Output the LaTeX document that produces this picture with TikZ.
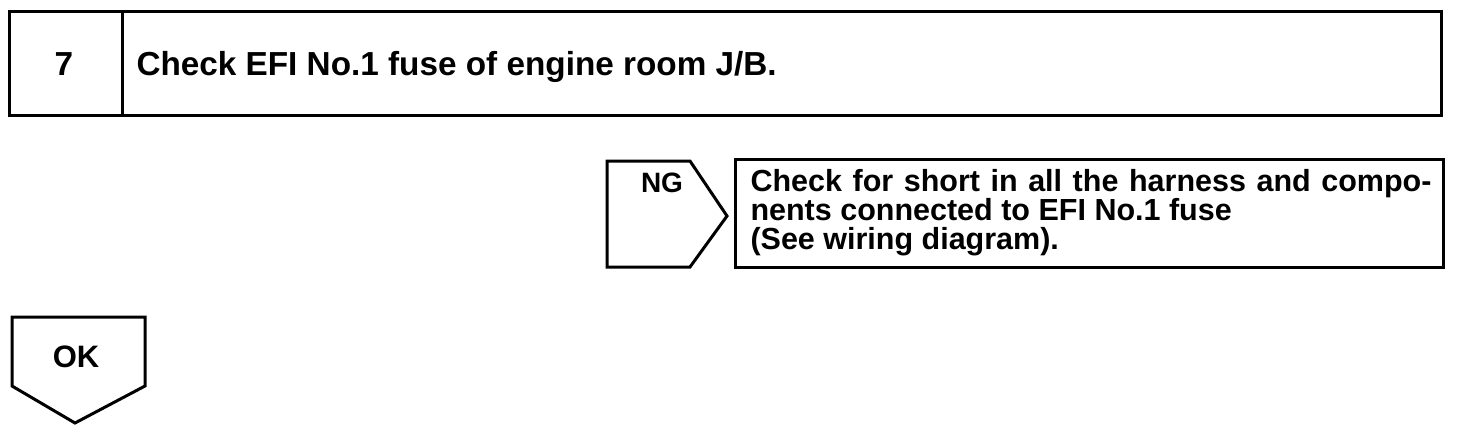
\documentclass[tikz,border=0pt]{standalone}
\usepackage{fontspec}
\setmainfont{Liberation Sans}
\begin{document}
\begin{tikzpicture}[x=1pt,y=-1pt,
  line width=3pt, line join=miter,
  lbl/.style={font=\bfseries\fontsize{33.3}{36}\selectfont, inner sep=0pt, anchor=base west},
  rlbl/.style={font=\bfseries\fontsize{30.5}{29}\selectfont, inner sep=0pt, anchor=base west},
  box/.style={draw=black, line width=3pt}]
\useasboundingbox (0,0) rectangle (1472,436);
% top box
\draw[box] (9,12) rectangle (1441,115);
\draw[line width=3pt] (122,12) -- (122,115);
\node[lbl, anchor=base] (num) at (64,75) {7};
\node[lbl] (title) at (135,75) {Check EFI No.1 fuse of engine room J/B.};
% NG pentagon
\draw[box] (607,161) -- (690,161) -- (727,216) -- (690,267) -- (607,267) -- cycle;
\node[rlbl, font=\bfseries\fontsize{28}{29}\selectfont, anchor=base] (ng) at (662,192) {NG};
% NG result box
\draw[box] (735,159) rectangle (1443,267);
\node[rlbl] (res1) at (749,191) {\makebox[681pt][s]{Check for short in all the harness and compo-}};
\node[rlbl] (res2) at (749,220) {nents connected to EFI No.1 fuse};
\node[rlbl] (res3) at (749,249) {(See wiring diagram).};
% OK pentagon
\draw[box] (12,317) -- (145,317) -- (145,386) -- (75,423) -- (12,386) -- cycle;
\node[lbl, font=\bfseries\fontsize{31}{36}\selectfont, anchor=base] (ok) at (76,367) {OK};
\end{tikzpicture}
\end{document}
